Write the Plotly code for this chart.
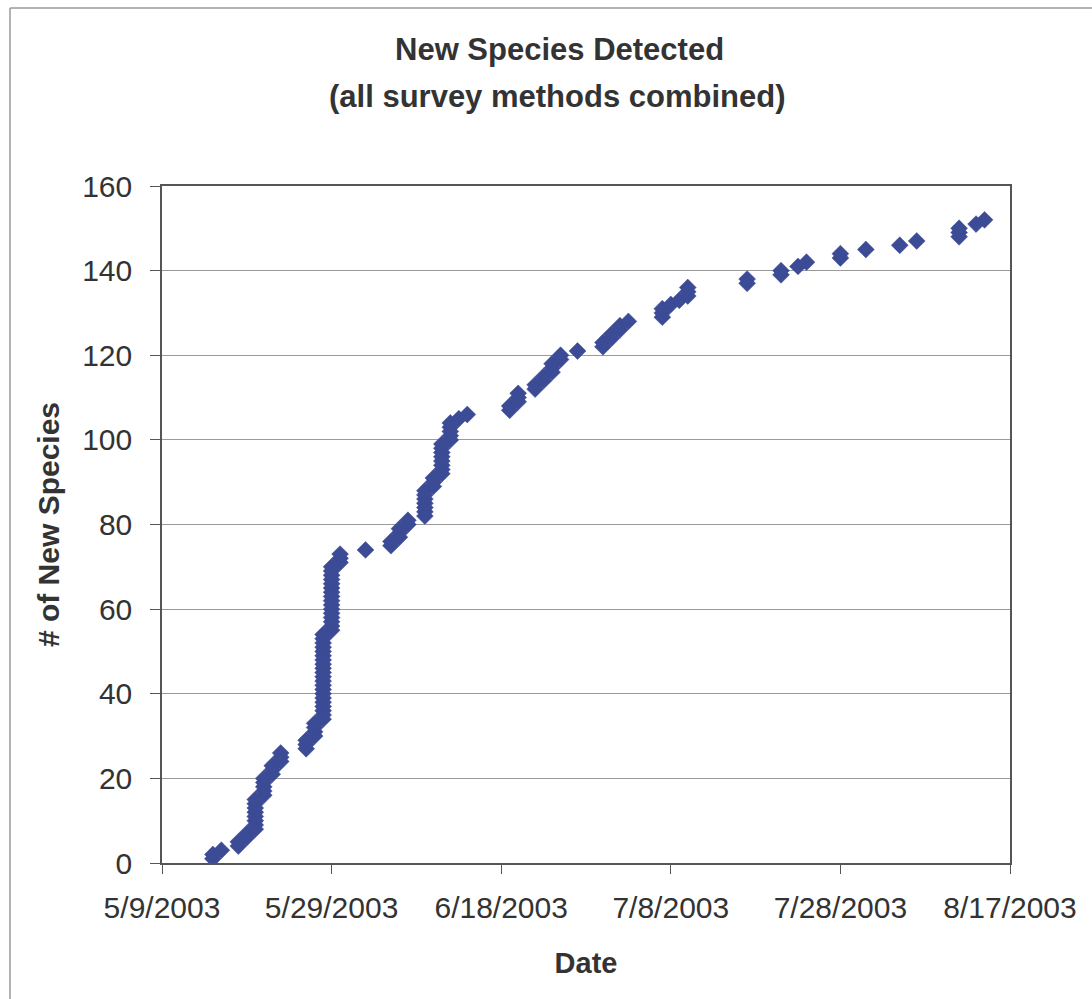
import plotly.graph_objects as go

# Survey dates and the number of species first detected on each date
survey_dates = [
    "2003-05-15", "2003-05-16", "2003-05-18", "2003-05-19", "2003-05-20",
    "2003-05-21", "2003-05-22", "2003-05-23", "2003-05-26", "2003-05-27",
    "2003-05-28", "2003-05-29", "2003-05-30", "2003-06-02", "2003-06-05",
    "2003-06-06", "2003-06-07", "2003-06-09", "2003-06-10", "2003-06-11",
    "2003-06-12", "2003-06-13", "2003-06-14", "2003-06-19", "2003-06-20",
    "2003-06-22", "2003-06-23", "2003-06-24", "2003-06-25", "2003-06-27",
    "2003-06-30", "2003-07-01", "2003-07-02", "2003-07-03", "2003-07-07",
    "2003-07-08", "2003-07-09", "2003-07-10", "2003-07-17", "2003-07-21",
    "2003-07-23", "2003-07-24", "2003-07-28", "2003-07-31", "2003-08-04",
    "2003-08-06", "2003-08-11", "2003-08-13", "2003-08-14",
]
new_species = [
    2, 1, 2, 2, 8,
    5, 3, 3, 3, 4,
    21, 16, 3, 1, 2,
    3, 2, 7, 3, 8,
    5, 1, 1, 2, 3,
    2, 2, 3, 2, 1,
    2, 2, 2, 1, 3,
    1, 1, 3, 2, 2,
    1, 1, 2, 1, 1,
    1, 3, 1, 1,
]

x_tick_vals = ["2003-05-09", "2003-05-29", "2003-06-18", "2003-07-08", "2003-07-28", "2003-08-17"]
x_tick_text = ["5/9/2003", "5/29/2003", "6/18/2003", "7/8/2003", "7/28/2003", "8/17/2003"]
y_tick_vals = [0, 20, 40, 60, 80, 100, 120, 140, 160]

# One point per species: its first-detection date and its running species number
pt_x, pt_y = [], []
species_no = 0
for d, n in zip(survey_dates, new_species):
    for _ in range(n):
        species_no += 1
        pt_x.append(d)
        pt_y.append(species_no)

MARKER = "#3c4b95"
FONT = "Liberation Sans, Arial, sans-serif"
TEXT = "#333333"

fig = go.Figure(
    go.Scatter(
        x=pt_x, y=pt_y, mode="markers",
        marker=dict(symbol="diamond", size=13, color=MARKER,
                    line=dict(color=MARKER, width=0.5)),
        showlegend=False, hoverinfo="x+y",
    )
)

fig.update_layout(
    width=1092, height=999,
    margin=dict(l=162, r=82, t=186, b=136),
    paper_bgcolor="white", plot_bgcolor="white",
    font=dict(family=FONT, color=TEXT),
    annotations=[
        dict(text="<b>New Species Detected</b>", xref="paper", yref="paper",
             x=(559 - 162) / 848, y=(863 - 50) / 677, xanchor="center", yanchor="middle",
             showarrow=False, font=dict(family=FONT, size=31, color=TEXT)),
        dict(text="<b>(all survey methods combined)</b>", xref="paper", yref="paper",
             x=(557 - 162) / 848, y=(863 - 97) / 677, xanchor="center", yanchor="middle",
             showarrow=False, font=dict(family=FONT, size=31, color=TEXT)),
    ],
    shapes=[
        dict(type="line", xref="paper", yref="paper",
             x0=(10 - 162) / 848, x1=(10 - 162) / 848,
             y0=(863 - 1005) / 677, y1=(863 - 8) / 677,
             line=dict(color="#9a9a9a", width=1.5)),
        dict(type="line", xref="paper", yref="paper",
             x0=(10 - 162) / 848, x1=(1100 - 162) / 848,
             y0=(863 - 8) / 677, y1=(863 - 8) / 677,
             line=dict(color="#9a9a9a", width=1.5)),
    ],
)

fig.update_xaxes(
    type="date", range=["2003-05-09", "2003-08-17"],
    tickvals=x_tick_vals, ticktext=x_tick_text,
    tickfont=dict(size=30, color=TEXT),
    ticks="outside", ticklen=9, tickcolor="#555555", tickwidth=1,
    ticklabelstandoff=8,
    showgrid=False, zeroline=False,
    showline=True, mirror=True, linecolor="#555555", linewidth=1.5,
    title=dict(text="<b>Date</b>", font=dict(size=29, color=TEXT), standoff=30),
)
fig.update_yaxes(
    range=[0, 160], tickvals=y_tick_vals,
    tickfont=dict(size=30, color=TEXT),
    ticks="outside", ticklen=10, tickcolor="#555555", tickwidth=1,
    ticklabelstandoff=12,
    showgrid=True, gridcolor="#9a9a9a", gridwidth=1, zeroline=False,
    showline=True, mirror=True, linecolor="#555555", linewidth=1.5,
    title=dict(text="<b># of New Species</b>", font=dict(size=30, color=TEXT), standoff=14),
)

fig.write_html("out.html")
